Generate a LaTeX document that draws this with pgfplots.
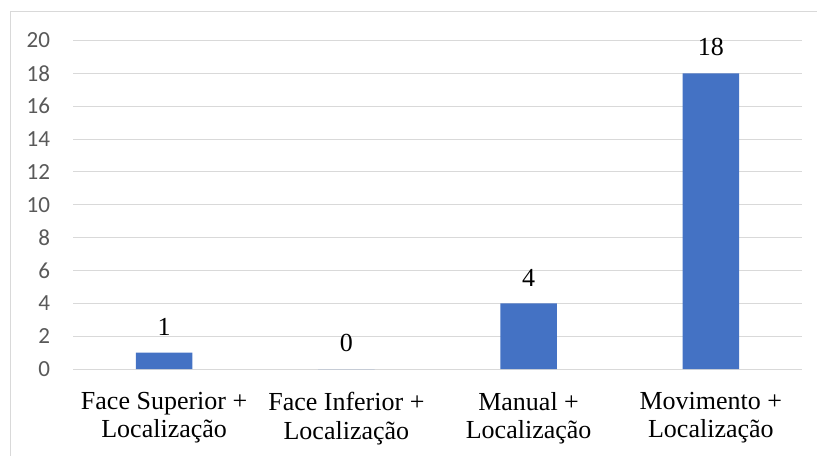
\documentclass[border=0pt]{standalone}
\usepackage{fontspec}
\setmainfont{Liberation Serif}
\newfontfamily\calibri{Carlito}
\newfontfamily\timesfont{Liberation Serif}
\usepackage{pgfplots}
\pgfplotsset{compat=1.18}
\definecolor{barblue}{HTML}{4472C4}
\definecolor{gridgray}{HTML}{D9D9D9}
\definecolor{ticktext}{HTML}{595959}
\begin{document}
\begin{tikzpicture}
\useasboundingbox (0,0) rectangle (612.75pt,-341.25pt);
% chart frame (left and top edges)
\draw[gridgray, line width=0.75pt] (7.5pt,-360pt) -- (7.5pt,-8.25pt) -- (640pt,-8.25pt);
\begin{axis}[
  at={(54.75pt,-276.75pt)}, anchor=south west,
  scale only axis, width=546.75pt, height=246.4pt,
  xmin=-0.5, xmax=3.5, ymin=0, ymax=20,
  ytick distance=2, xtick=data,
  xticklabels={{\timesfont Face Superior +}\\{\timesfont Localização},
               {\timesfont Face Inferior +}\\{\timesfont Localização},
               {\timesfont Manual +}\\{\timesfont Localização},
               {\timesfont Movimento +}\\{\timesfont Localização}},
  axis line style={draw=none},
  major tick length=0pt,
  ymajorgrids, grid style={gridgray, line width=0.75pt},
  /pgf/number format/assume math mode=true,
  yticklabel style={font=\calibri\fontsize{17.3}{20}\selectfont, text=ticktext, anchor=east, inner sep=0pt},
  yticklabel shift=17pt,
  xticklabel style={font=\timesfont\fontsize{19.5}{21.2}\selectfont, align=center, anchor=north, inner sep=0pt},
  xticklabel shift=17.4pt,
  clip=false,
]
\addplot[ybar, bar width=42.3pt, fill=barblue, draw=none,
  nodes near coords,
  nodes near coords style={font=\timesfont\fontsize{19.5}{21.2}\selectfont, anchor=south, inner sep=0pt, yshift=12.75pt}]
  coordinates {(0,1) (1,0) (2,4) (3,18)};
\end{axis}
\end{tikzpicture}
\end{document}
